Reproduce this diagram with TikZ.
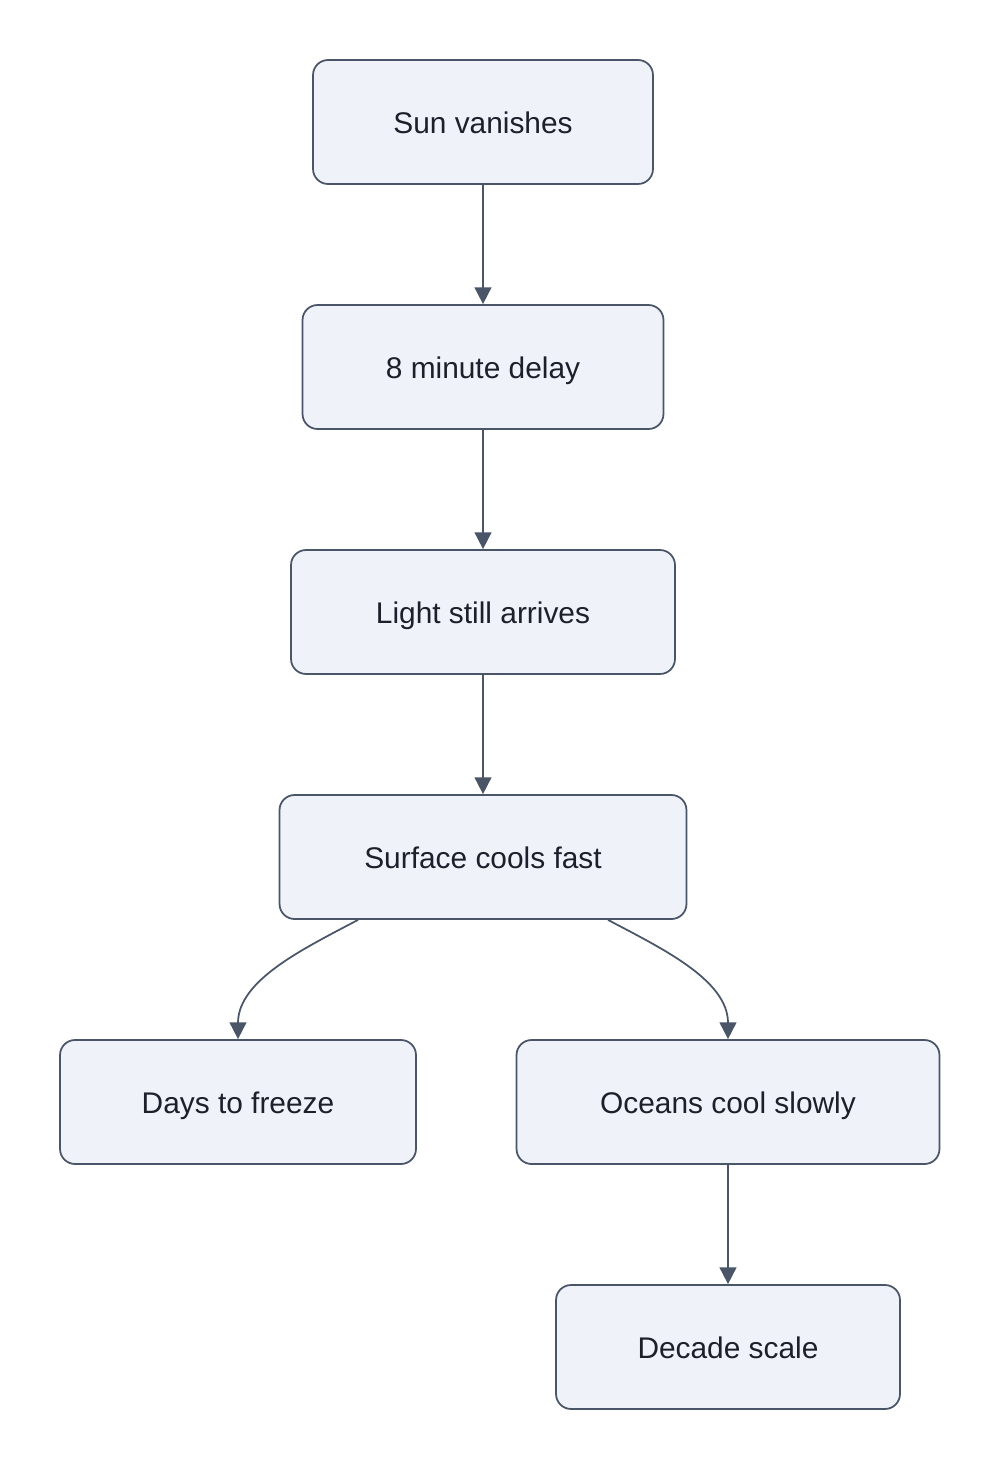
\documentclass[tikz,border=0pt]{standalone}
\usepackage{fontspec}
\setmainfont{Liberation Sans}
\usetikzlibrary{arrows.meta, positioning}
\definecolor{boxfill}{RGB}{239, 242, 248}
\definecolor{boxline}{RGB}{74, 85, 104}
\definecolor{textcolor}{RGB}{28, 32, 42}

\begin{document}
\begin{tikzpicture}[x=0.02cm, y=-0.02cm,
    step box/.style={rectangle, rounded corners=0.3cm, draw=boxline, fill=boxfill,
                     line width=1pt, minimum height=2.48cm, text=textcolor,
                     text height=15.6pt, text depth=2pt,
                     font=\fontsize{17}{20}\selectfont},
    flow/.style={-{Triangle[length=9.5pt, width=9.5pt]}, line width=1pt, boxline}
]
\useasboundingbox (0,0) rectangle (1000,1470);

% Main chain
\node[step box, minimum width=6.8cm] (sun) at (483,122) {Sun vanishes};
\node[step box, minimum width=7.22cm] (delay) at (483,367) {8 minute delay};
\node[step box, minimum width=7.68cm] (light) at (483,612) {Light still arrives};
\node[step box, minimum width=8.14cm] (surface) at (483,857) {Surface cools fast};

% Branches
\node[step box, minimum width=7.12cm] (freeze) at (238,1102) {Days to freeze};
\node[step box, minimum width=8.46cm] (oceans) at (728,1102) {Oceans cool slowly};
\node[step box, minimum width=6.88cm] (decade) at (728,1347) {Decade scale};

% Connections
\foreach \a/\b in {sun/delay, delay/light, light/surface, oceans/decade}
    \draw[flow] (\a) -- (\b);
\draw[flow] ([xshift=-2.5cm]surface.south) to[out=-152, in=90, looseness=0.9] (freeze.north);
\draw[flow] ([xshift=2.5cm]surface.south) to[out=-28, in=90, looseness=0.9] (oceans.north);

\end{tikzpicture}
\end{document}
